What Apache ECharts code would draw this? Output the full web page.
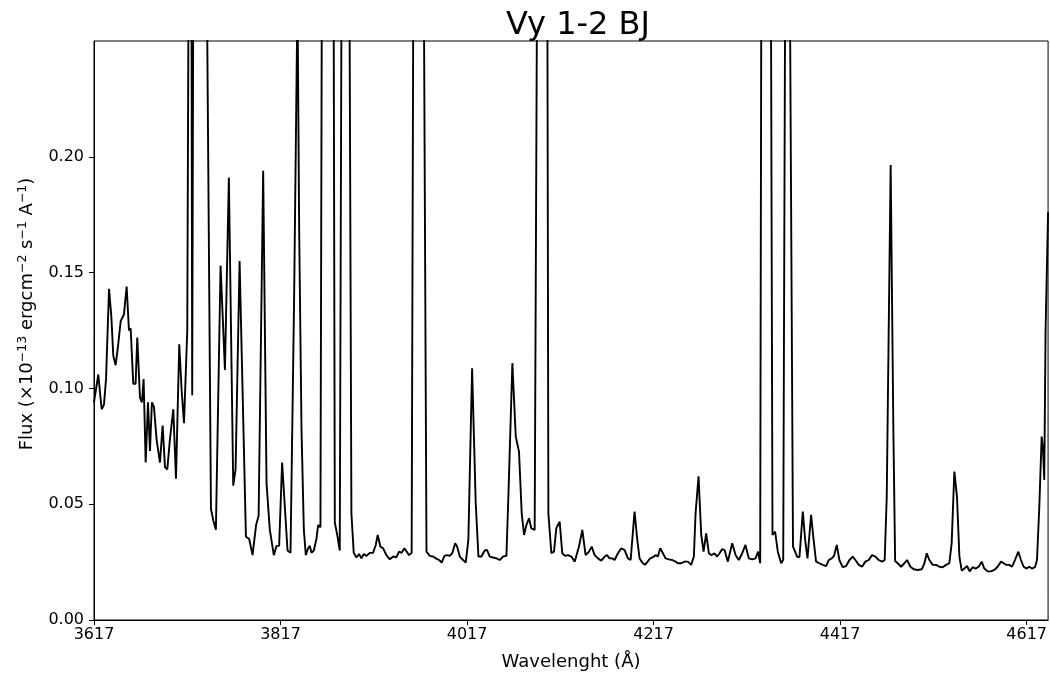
<!DOCTYPE html>
<html>
<head>
<meta charset="utf-8">
<script src="https://cdn.jsdelivr.net/npm/echarts@6/dist/echarts.min.js"></script>
<style>
html,body{margin:0;padding:0;background:#fff;}
#chart{width:1050px;height:679px;}
</style>
</head>
<body>
<div id="chart"></div>
<script>
// Wavelength (Å)
var wavelengths = [
3617,3621.6,3625.2,3627.7,3629.9,3633.1,3635.6,3637.7,3640.2,3642.7,
3645.6,3649.1,3652.0,3654.5,3656.3,3659.1,3661.6,3663.4,3666.3,3668.4,
3670.2,3672.4,3674.9,3677.0,3679.1,3681.3,3684.1,3687.7,3690.6,3693.1,
3695.6,3698.4,3702.0,3704.9,3708.4,3711.0,3713.5,3717.0,3720.5,3722.3,
3725.5,3731.0,3737.5,3742.4,3744.9,3747.7,3752.7,3757.4,3761.6,3766.3,
3768.8,3773.1,3779.9,3783.4,3787.0,3790.8,3793.5,3798.4,3802.0,3805.5,
3809.8,3812.7,3815.5,3818.7,3821.6,3824.5,3827.7,3831.6,3835.2,3837.0,
3839.5,3842.0,3844.1,3846.6,3848.4,3850.2,3852.7,3855.5,3857.3,3859.8,
3863.4,3868.0,3872.7,3875.2,3877.7,3880.5,3883.4,3887.7,3890.2,3893.0,
3895.5,3898.4,3901.2,3903.7,3906.2,3909.1,3912.7,3916.2,3919.1,3921.2,
3924.1,3926.9,3930.5,3934.1,3937.7,3941.2,3944.1,3946.9,3949.8,3951.9,
3954.8,3957.6,3961.0,3964.5,3969.2,3973.5,3977.0,3980.6,3983.5,3987.0,
3989.9,3992.7,3995.6,3998.5,4001.3,4004.2,4006.3,4009.2,4012.7,4015.6,
4018.4,4022.4,4026.3,4029.2,4032.4,4035.9,4038.5,4041.3,4044.9,4048.5,
4052.0,4055.6,4059.2,4061.3,4065.6,4069.2,4072.7,4075.6,4078.1,4080.6,
4083.4,4085.9,4089.5,4094.5,4098.4,4102.0,4104.2,4107.4,4110.2,4112.7,
4116.3,4119.1,4122.0,4125.2,4128.8,4132.4,4137.0,4140.6,4144.1,4147.7,
4150.6,4153.8,4157.4,4160.9,4164.5,4167.0,4169.9,4172.7,4175.2,4178.8,
4182.4,4185.9,4189.5,4192.4,4196.6,4199.5,4202.0,4204.8,4207.7,4210.6,
4213.4,4216.3,4219.1,4221.6,4224.1,4227.0,4229.8,4233.4,4237.0,4240.6,
4243.1,4246.6,4250.2,4253.8,4257.3,4260.2,4262.0,4265.2,4268.1,4270.6,
4273.4,4276.3,4279.1,4282.3,4285.2,4287.7,4290.6,4293.1,4296.6,4301.3,
4305.0,4308.4,4312.0,4315.5,4319.1,4322.7,4326.3,4329.1,4331.3,4334.1,
4337.5,4340.5,4344.5,4347.3,4350.2,4353.8,4356.0,4360.0,4366.5,4370.9,
4373.4,4377.0,4379.5,4382.0,4385.9,4388.4,4391.2,4394.8,4398.4,4402.0,
4404.8,4408.0,4410.5,4413.4,4416.2,4419.8,4423.4,4427.0,4430.5,4433.4,
4437.0,4440.5,4444.1,4447.7,4451.2,4454.8,4458.4,4462.0,4464.8,4467.0,
4471.2,4474.1,4476.0,4478.8,4482.4,4485.9,4488.8,4492.4,4495.9,4500.2,
4504.5,4507.4,4509.9,4512.7,4516.3,4519.9,4523.4,4527.0,4530.6,4534.1,
4536.6,4539.5,4542.3,4544.9,4547.4,4550.2,4553.1,4555.9,4559.1,4562.3,
4565.6,4568.8,4571.6,4575.2,4578.8,4582.3,4585.9,4589.5,4592.3,4595.2,
4598.4,4601.3,4604.5,4608.1,4610.9,4613.8,4616.6,4619.8,4622.7,4625.9,
4628.1,4630.6,4633.1,4634.5,4635.9,4637.3,4640.0
];
// Flux (x1e-13 erg cm^-2 s^-1 A^-1)
var flux = [
0.094,0.106,0.091,0.093,0.104,0.143,0.131,0.114,0.110,0.118,
0.129,0.132,0.144,0.125,0.126,0.102,0.102,0.122,0.096,0.094,
0.104,0.068,0.094,0.073,0.094,0.092,0.078,0.068,0.084,0.066,
0.065,0.078,0.091,0.061,0.119,0.099,0.085,0.125,0.50,0.097,
0.60,0.90,0.30,0.048,0.043,0.039,0.153,0.108,0.191,0.058,
0.065,0.155,0.036,0.035,0.028,0.041,0.045,0.194,0.059,0.039,
0.028,0.032,0.032,0.068,0.049,0.030,0.029,0.140,0.27,0.168,
0.082,0.039,0.028,0.031,0.032,0.029,0.030,0.035,0.041,0.040,
0.60,0.80,0.50,0.042,0.037,0.030,0.40,0.50,0.35,0.046,
0.029,0.027,0.0285,0.0266,0.0285,0.0277,0.029,0.029,0.0324,0.0367,
0.0317,0.031,0.028,0.0262,0.0274,0.0271,0.0295,0.029,0.031,0.0306,
0.028,0.029,0.50,0.90,0.40,0.0295,0.0277,0.0274,0.0266,0.0259,
0.0248,0.0277,0.028,0.0277,0.029,0.0331,0.0317,0.0274,0.0259,0.0248,
0.0346,0.1087,0.0504,0.0274,0.0274,0.030,0.0302,0.0274,0.027,0.0266,
0.0259,0.0274,0.0277,0.0533,0.1109,0.0792,0.0727,0.046,0.0367,0.041,
0.0439,0.0396,0.0389,0.50,1.00,0.50,0.046,0.0288,0.0295,0.0396,
0.0425,0.0288,0.0277,0.028,0.0274,0.0252,0.0317,0.0389,0.028,0.0295,
0.0317,0.028,0.0266,0.0256,0.0274,0.028,0.0266,0.0266,0.0259,0.0288,
0.031,0.0302,0.0266,0.0259,0.0468,0.0346,0.0266,0.0248,0.0238,0.0252,
0.0266,0.0271,0.028,0.0274,0.031,0.0288,0.0266,0.0262,0.0259,0.0252,
0.0245,0.0245,0.0252,0.0252,0.0238,0.0274,0.046,0.062,0.0367,0.0295,
0.0374,0.0288,0.028,0.0288,0.0274,0.0288,0.0306,0.0302,0.0252,0.0331,
0.028,0.0259,0.0288,0.0324,0.0266,0.0262,0.0266,0.0295,0.0245,0.60,
1.50,0.60,0.0367,0.0382,0.0295,0.0245,0.026,0.50,0.0317,0.0274,
0.0271,0.0468,0.0346,0.0266,0.0454,0.0353,0.0252,0.0245,0.0238,0.0233,
0.0259,0.0266,0.0277,0.0324,0.0259,0.0228,0.0233,0.0259,0.0274,0.0259,
0.0238,0.023,0.0252,0.0259,0.028,0.0274,0.0259,0.0252,0.0259,0.0533,
0.1965,0.082,0.0255,0.0245,0.023,0.0245,0.0259,0.023,0.0219,0.0216,
0.0219,0.0245,0.0288,0.0259,0.0238,0.0238,0.023,0.0228,0.0238,0.0245,
0.0331,0.0641,0.0533,0.0274,0.0213,0.0222,0.0233,0.021,0.0228,0.0222,
0.023,0.0252,0.0222,0.021,0.021,0.0216,0.023,0.0252,0.0245,0.0238,
0.0238,0.023,0.0259,0.0295,0.0259,0.023,0.0222,0.023,0.0222,0.0228,
0.0259,0.049,0.0792,0.074,0.0605,0.125,0.176
];
var xTickValues = [3617, 3817, 4017, 4217, 4417, 4617];
var yTickValues = [0, 0.05, 0.10, 0.15, 0.20];

var seriesData = wavelengths.map(function (w, i) { return [w, flux[i]]; });

var chart = echarts.init(document.getElementById('chart'), null, {renderer: 'canvas'});
var fontFam = 'DejaVu Sans, Liberation Sans, sans-serif';
chart.setOption({
  animation: false,
  backgroundColor: '#fff',
  title: {
    text: 'Vy 1-2 BJ',
    left: 573,
    textAlign: 'center',
    top: 5,
    textStyle: {fontFamily: fontFam, fontSize: 32, fontWeight: 'normal', color: '#000'}
  },
  grid: {
    left: 94, right: 1, top: 41, bottom: 59,
    show: true, borderColor: '#000', borderWidth: 1, backgroundColor: 'transparent'
  },
  xAxis: {
    type: 'value',
    min: 3617, max: 4640,
    name: 'Wavelenght (Å)',
    nameLocation: 'middle',
    nameGap: 33,
    nameTextStyle: {fontFamily: fontFam, fontSize: 18, color: '#000'},
    axisLine: {show: true, lineStyle: {color: '#000', width: 1}},
    axisTick: {show: true, length: 5, lineStyle: {color: '#000'}, customValues: xTickValues},
    axisLabel: {show: true, fontFamily: fontFam, fontSize: 16, color: '#000', margin: 7, customValues: xTickValues,
      formatter: function (v) { return String(Math.round(v)); }},
    splitLine: {show: false}
  },
  yAxis: {
    type: 'value',
    min: 0, max: 0.25,
    name: '{n|Flux (×10}{s|−13}{n| ergcm}{s|−2}{n| s}{s|−1}{n| A}{s|−1}{n|)}',
    nameLocation: 'middle',
    nameGap: 58,
    nameRotate: 90,
    nameTextStyle: {
      fontFamily: fontFam, fontSize: 18, color: '#000',
      padding: [0, 0, 0, 33],
      rich: {
        n: {fontFamily: fontFam, fontSize: 18, color: '#000', lineHeight: 20, verticalAlign: 'bottom'},
        s: {fontFamily: fontFam, fontSize: 12.5, color: '#000', lineHeight: 13, verticalAlign: 'top'}
      }
    },
    axisLine: {show: true, lineStyle: {color: '#000', width: 1}},
    axisTick: {show: true, length: 5, lineStyle: {color: '#000'}, customValues: yTickValues},
    axisLabel: {show: true, fontFamily: fontFam, fontSize: 16, color: '#000', margin: 10, customValues: yTickValues,
      formatter: function (v) { return v.toFixed(2); }},
    splitLine: {show: false}
  },
  series: [{
    type: 'line',
    data: seriesData,
    showSymbol: false,
    symbol: 'none',
    clip: true,
    lineStyle: {color: '#000', width: 1.9},
    emphasis: {disabled: true}
  }]
});
</script>
</body>
</html>
